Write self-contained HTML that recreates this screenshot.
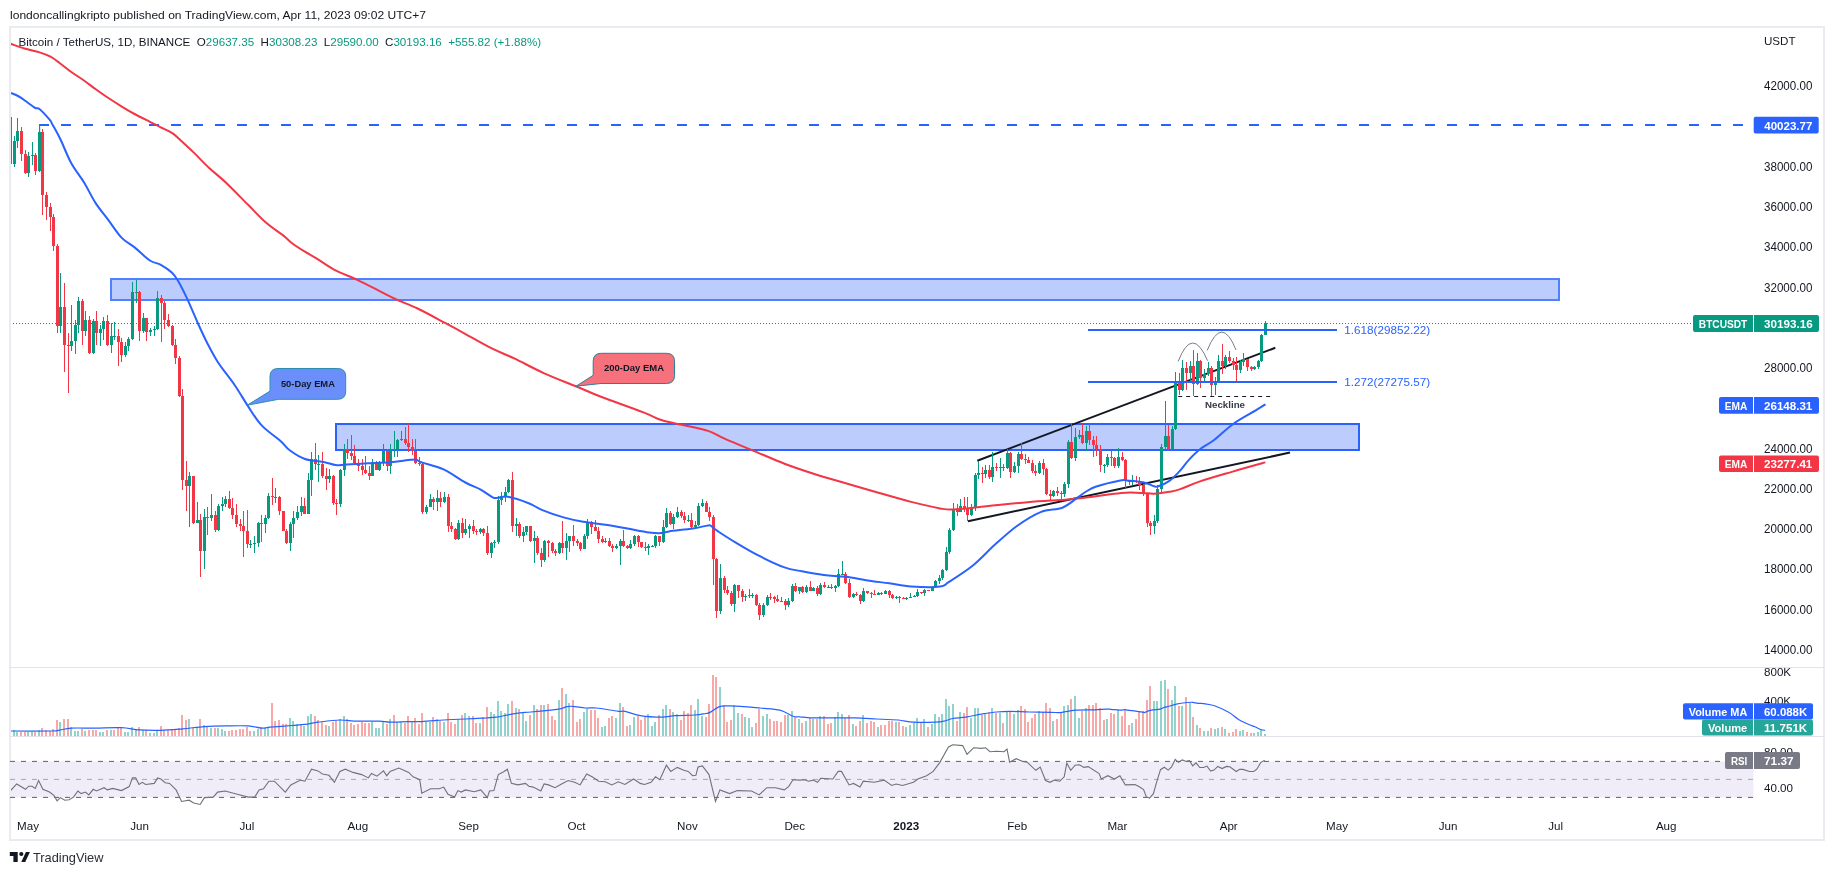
<!DOCTYPE html>
<html><head><meta charset="utf-8">
<style>
html,body{margin:0;padding:0;background:#ffffff;}
body{width:1834px;height:875px;overflow:hidden;position:relative;}
svg{position:absolute;left:0;top:0;will-change:transform;}
text{font-family:"Liberation Sans", sans-serif;}
</style></head>
<body>
<svg width="1834" height="875" viewBox="0 0 1834 875">
<defs><clipPath id="plot"><rect x="11" y="28" width="1742.5" height="639"/></clipPath>
<clipPath id="vpl"><rect x="11" y="668" width="1742.5" height="68"/></clipPath>
<clipPath id="rpl"><rect x="11" y="737" width="1742.5" height="71"/></clipPath></defs>
<rect x="0" y="0" width="1834" height="875" fill="#ffffff"/>
<text x="10" y="18.6" font-size="11.8" fill="#131722" textLength="416" lengthAdjust="spacingAndGlyphs">londoncallingkripto published on TradingView.com, Apr 11, 2023 09:02 UTC+7</text>
<rect x="10" y="27" width="1814" height="813" fill="#ffffff" stroke="#e9ebf0" stroke-width="2"/>
<line x1="10" y1="667.5" x2="1824" y2="667.5" stroke="#e0e3eb" stroke-width="1"/>
<line x1="10" y1="736.5" x2="1824" y2="736.5" stroke="#e0e3eb" stroke-width="1"/>
<!-- rsi band -->
<rect x="10" y="761.4" width="1743.5" height="36" fill="#f0edf8"/>
<line x1="10" y1="761.4" x2="1753.5" y2="761.4" stroke="#5d606b" stroke-width="1" stroke-dasharray="5,6"/>
<line x1="10" y1="779.4" x2="1753.5" y2="779.4" stroke="#a3a6af" stroke-width="1" stroke-dasharray="5,6"/>
<line x1="10" y1="797.4" x2="1753.5" y2="797.4" stroke="#5d606b" stroke-width="1" stroke-dasharray="5,6"/>
<g clip-path="url(#rpl)"><polyline points="10.6,790.6 16.7,784.0 25.5,789.3 28.7,786.2 32.0,786.2 35.3,788.4 38.6,780.5 42.9,789.3 49.5,792.1 53.9,795.4 57.1,800.8 60.4,797.6 64.8,800.2 69.1,799.7 73.5,797.1 77.9,791.0 81.1,793.6 85.5,792.1 88.8,794.9 93.2,789.3 96.4,791.0 104.1,787.7 107.3,789.9 112.8,788.4 121.5,790.6 129.2,786.6 132.5,777.9 135.7,777.9 139.0,784.5 142.3,782.3 145.6,784.5 154.3,783.4 157.6,777.9 160.8,779.0 165.2,782.7 169.6,783.4 176.1,789.9 181.6,801.5 189.2,800.2 193.6,803.0 200.1,804.5 204.5,797.6 213.2,797.1 217.6,792.1 225.2,791.0 237.3,794.3 248.2,797.1 254.7,797.1 259.1,789.9 263.5,788.8 268.9,781.2 274.4,781.2 285.3,792.1 290.8,784.9 300.6,780.1 304.9,781.2 311.5,769.2 318.0,770.9 322.4,774.0 329.0,775.3 334.4,782.3 339.9,771.4 345.3,769.2 353.0,772.4 361.7,774.6 368.3,777.9 371.5,773.5 377.0,776.2 383.5,770.9 386.8,775.7 390.1,771.4 398.8,768.1 408.7,772.4 413.1,776.8 419.7,779.7 421.8,793.2 430.6,788.8 439.3,788.8 443.7,787.1 448.0,794.3 454.6,797.1 457.9,790.6 461.1,792.1 465.5,789.9 474.2,791.7 480.8,789.9 487.3,797.6 489.5,791.0 493.9,790.6 498.3,774.6 503.7,771.8 507.4,769.2 511.4,783.4 517.9,784.9 525.5,783.4 528.8,786.2 533.2,787.1 540.8,791.0 544.1,784.0 548.5,784.9 555.0,787.7 561.6,784.0 568.1,780.5 574.7,782.3 580.1,784.9 586.7,774.0 592.1,776.8 598.7,781.2 605.2,781.8 611.8,784.9 618.3,781.8 624.9,784.5 633.6,779.0 640.2,783.4 644.5,784.5 651.1,782.3 655.5,776.8 659.8,779.7 666.4,765.2 670.7,771.4 677.3,767.4 683.8,770.3 688.2,771.4 692.6,775.7 695.9,775.3 698.0,767.0 702.4,765.9 709.0,774.6 715.5,801.5 719.9,789.9 729.7,793.6 737.3,790.6 751.5,791.0 759.2,794.9 766.8,787.7 775.5,787.7 784.3,789.9 788.6,786.6 793.0,779.7 800.0,780.1 804.4,779.7 808.7,781.2 813.1,780.1 817.5,782.3 820.7,778.3 832.8,779.0 838.2,771.4 841.5,771.4 849.1,784.9 853.5,783.4 860.0,787.1 863.3,781.2 874.2,782.3 884.1,780.1 891.7,785.5 896.1,784.0 902.6,785.5 913.5,782.3 917.9,779.0 926.6,775.7 933.2,771.4 939.7,762.6 948.5,746.9 952.8,744.7 962.7,745.6 967.0,754.3 973.6,747.8 981.2,748.4 985.6,747.8 990.0,751.7 996.5,751.3 1004.1,751.7 1007.0,749.1 1009.6,762.2 1016.2,758.7 1022.7,761.5 1027.1,762.2 1035.8,770.3 1040.2,767.0 1045.6,780.5 1050.0,782.3 1054.4,780.1 1059.8,781.2 1064.2,776.8 1066.8,763.1 1070.7,770.3 1075.1,765.2 1079.5,764.8 1083.8,767.4 1088.2,766.6 1099.1,773.5 1101.3,779.0 1107.9,775.7 1114.4,779.0 1119.9,775.7 1125.3,784.9 1134.9,784.6 1139.3,786.8 1143.6,789.5 1146.3,796.9 1149.6,798.0 1153.4,793.7 1156.7,781.9 1160.5,769.7 1164.3,767.2 1168.2,770.1 1171.4,767.2 1175.2,759.5 1178.5,762.3 1182.3,759.9 1186.2,761.4 1189.4,760.6 1192.7,765.8 1196.0,762.8 1199.8,767.5 1203.6,767.5 1206.9,766.1 1210.7,771.0 1214.0,770.1 1217.8,766.4 1222.1,768.6 1226.5,766.4 1229.8,766.8 1236.3,771.5 1239.6,769.4 1242.9,769.4 1249.4,771.5 1253.8,771.5 1257.0,769.0 1260.9,762.3 1264.7,760.3" fill="none" stroke="#6f717b" stroke-width="1.1"/></g>
<g clip-path="url(#vpl)"><path d="M9 730h2V736h-2ZM20 732h2V736h-2ZM24 732h2V736h-2ZM34 732h2V736h-2ZM41 728h2V736h-2ZM45 730h2V736h-2ZM49 731h2V736h-2ZM52 729h2V736h-2ZM56 720h2V736h-2ZM63 719h2V736h-2ZM67 719h2V736h-2ZM81 729h2V736h-2ZM88 730h2V736h-2ZM92 730h2V736h-2ZM95 730h2V736h-2ZM106 730h2V736h-2ZM113 730h2V736h-2ZM117 728h2V736h-2ZM120 728h2V736h-2ZM138 727h2V736h-2ZM145 730h2V736h-2ZM160 726h2V736h-2ZM163 730h2V736h-2ZM167 730h2V736h-2ZM171 729h2V736h-2ZM174 729h2V736h-2ZM178 728h2V736h-2ZM181 715h2V736h-2ZM185 720h2V736h-2ZM192 728h2V736h-2ZM199 719h2V736h-2ZM206 727h2V736h-2ZM214 728h2V736h-2ZM228 731h2V736h-2ZM231 730h2V736h-2ZM235 730h2V736h-2ZM239 729h2V736h-2ZM242 729h2V736h-2ZM246 727h2V736h-2ZM249 731h2V736h-2ZM260 727h2V736h-2ZM271 703h2V736h-2ZM274 721h2V736h-2ZM278 720h2V736h-2ZM282 724h2V736h-2ZM285 724h2V736h-2ZM300 724h2V736h-2ZM314 716h2V736h-2ZM317 720h2V736h-2ZM321 722h2V736h-2ZM325 725h2V736h-2ZM332 722h2V736h-2ZM335 721h2V736h-2ZM346 719h2V736h-2ZM350 723h2V736h-2ZM353 725h2V736h-2ZM357 724h2V736h-2ZM361 722h2V736h-2ZM364 723h2V736h-2ZM368 723h2V736h-2ZM386 724h2V736h-2ZM393 715h2V736h-2ZM404 723h2V736h-2ZM407 716h2V736h-2ZM414 718h2V736h-2ZM418 724h2V736h-2ZM421 713h2V736h-2ZM432 717h2V736h-2ZM439 721h2V736h-2ZM447 713h2V736h-2ZM450 722h2V736h-2ZM454 724h2V736h-2ZM461 715h2V736h-2ZM472 716h2V736h-2ZM475 723h2V736h-2ZM482 717h2V736h-2ZM486 707h2V736h-2ZM511 701h2V736h-2ZM518 709h2V736h-2ZM529 715h2V736h-2ZM536 709h2V736h-2ZM540 705h2V736h-2ZM547 704h2V736h-2ZM551 716h2V736h-2ZM554 720h2V736h-2ZM561 688h2V736h-2ZM572 700h2V736h-2ZM576 722h2V736h-2ZM579 719h2V736h-2ZM590 710h2V736h-2ZM594 710h2V736h-2ZM597 718h2V736h-2ZM608 718h2V736h-2ZM611 716h2V736h-2ZM622 707h2V736h-2ZM626 726h2V736h-2ZM637 716h2V736h-2ZM640 720h2V736h-2ZM644 717h2V736h-2ZM658 715h2V736h-2ZM669 709h2V736h-2ZM680 720h2V736h-2ZM683 711h2V736h-2ZM687 713h2V736h-2ZM690 705h2V736h-2ZM705 717h2V736h-2ZM708 704h2V736h-2ZM712 675h2V736h-2ZM715 677h2V736h-2ZM723 705h2V736h-2ZM726 722h2V736h-2ZM730 720h2V736h-2ZM741 714h2V736h-2ZM755 723h2V736h-2ZM758 709h2V736h-2ZM769 719h2V736h-2ZM773 721h2V736h-2ZM776 721h2V736h-2ZM780 722h2V736h-2ZM784 715h2V736h-2ZM794 717h2V736h-2ZM801 723h2V736h-2ZM809 718h2V736h-2ZM816 719h2V736h-2ZM823 716h2V736h-2ZM827 724h2V736h-2ZM830 723h2V736h-2ZM844 718h2V736h-2ZM848 715h2V736h-2ZM855 726h2V736h-2ZM859 721h2V736h-2ZM866 723h2V736h-2ZM870 721h2V736h-2ZM873 722h2V736h-2ZM880 725h2V736h-2ZM884 725h2V736h-2ZM888 721h2V736h-2ZM891 721h2V736h-2ZM898 722h2V736h-2ZM902 726h2V736h-2ZM920 723h2V736h-2ZM927 727h2V736h-2ZM956 721h2V736h-2ZM963 713h2V736h-2ZM966 707h2V736h-2ZM981 715h2V736h-2ZM988 712h2V736h-2ZM995 713h2V736h-2ZM1002 723h2V736h-2ZM1009 711h2V736h-2ZM1020 706h2V736h-2ZM1024 709h2V736h-2ZM1027 722h2V736h-2ZM1031 718h2V736h-2ZM1034 714h2V736h-2ZM1042 712h2V736h-2ZM1045 703h2V736h-2ZM1049 708h2V736h-2ZM1056 719h2V736h-2ZM1060 712h2V736h-2ZM1070 699h2V736h-2ZM1081 711h2V736h-2ZM1088 705h2V736h-2ZM1092 705h2V736h-2ZM1095 703h2V736h-2ZM1099 708h2V736h-2ZM1103 720h2V736h-2ZM1110 713h2V736h-2ZM1113 714h2V736h-2ZM1121 716h2V736h-2ZM1124 710h2V736h-2ZM1128 725h2V736h-2ZM1135 719h2V736h-2ZM1138 712h2V736h-2ZM1142 711h2V736h-2ZM1146 700h2V736h-2ZM1149 686h2V736h-2ZM1167 689h2V736h-2ZM1178 706h2V736h-2ZM1185 697h2V736h-2ZM1192 717h2V736h-2ZM1199 728h2V736h-2ZM1210 728h2V736h-2ZM1221 727h2V736h-2ZM1228 733h2V736h-2ZM1232 732h2V736h-2ZM1235 729h2V736h-2ZM1246 732h2V736h-2ZM1250 733h2V736h-2Z" fill="#f7a9a7"/><path d="M13 730h2V736h-2ZM16 732h2V736h-2ZM27 732h2V736h-2ZM31 732h2V736h-2ZM38 730h2V736h-2ZM59 722h2V736h-2ZM70 727h2V736h-2ZM74 731h2V736h-2ZM77 731h2V736h-2ZM84 731h2V736h-2ZM99 732h2V736h-2ZM102 732h2V736h-2ZM110 730h2V736h-2ZM124 732h2V736h-2ZM127 732h2V736h-2ZM131 727h2V736h-2ZM135 730h2V736h-2ZM142 730h2V736h-2ZM149 733h2V736h-2ZM153 733h2V736h-2ZM156 730h2V736h-2ZM188 719h2V736h-2ZM196 728h2V736h-2ZM203 725h2V736h-2ZM210 728h2V736h-2ZM217 728h2V736h-2ZM221 729h2V736h-2ZM224 731h2V736h-2ZM253 731h2V736h-2ZM257 729h2V736h-2ZM264 728h2V736h-2ZM267 727h2V736h-2ZM289 718h2V736h-2ZM292 721h2V736h-2ZM296 724h2V736h-2ZM303 726h2V736h-2ZM307 716h2V736h-2ZM310 714h2V736h-2ZM328 726h2V736h-2ZM339 719h2V736h-2ZM343 716h2V736h-2ZM371 722h2V736h-2ZM375 728h2V736h-2ZM378 728h2V736h-2ZM382 722h2V736h-2ZM389 719h2V736h-2ZM396 722h2V736h-2ZM400 722h2V736h-2ZM411 721h2V736h-2ZM425 722h2V736h-2ZM429 722h2V736h-2ZM436 719h2V736h-2ZM443 722h2V736h-2ZM457 719h2V736h-2ZM464 713h2V736h-2ZM468 716h2V736h-2ZM479 723h2V736h-2ZM490 712h2V736h-2ZM493 714h2V736h-2ZM497 701h2V736h-2ZM500 711h2V736h-2ZM504 713h2V736h-2ZM507 704h2V736h-2ZM515 708h2V736h-2ZM522 713h2V736h-2ZM525 721h2V736h-2ZM533 705h2V736h-2ZM543 705h2V736h-2ZM558 700h2V736h-2ZM565 694h2V736h-2ZM568 703h2V736h-2ZM583 712h2V736h-2ZM586 709h2V736h-2ZM601 727h2V736h-2ZM604 726h2V736h-2ZM615 718h2V736h-2ZM619 703h2V736h-2ZM629 725h2V736h-2ZM633 717h2V736h-2ZM647 714h2V736h-2ZM651 726h2V736h-2ZM654 722h2V736h-2ZM662 709h2V736h-2ZM665 705h2V736h-2ZM672 712h2V736h-2ZM676 714h2V736h-2ZM694 710h2V736h-2ZM697 699h2V736h-2ZM701 716h2V736h-2ZM719 687h2V736h-2ZM733 705h2V736h-2ZM737 713h2V736h-2ZM744 717h2V736h-2ZM748 718h2V736h-2ZM751 727h2V736h-2ZM762 716h2V736h-2ZM766 714h2V736h-2ZM787 715h2V736h-2ZM791 711h2V736h-2ZM798 719h2V736h-2ZM805 721h2V736h-2ZM812 719h2V736h-2ZM819 716h2V736h-2ZM834 717h2V736h-2ZM837 712h2V736h-2ZM841 714h2V736h-2ZM852 724h2V736h-2ZM862 715h2V736h-2ZM877 727h2V736h-2ZM895 722h2V736h-2ZM905 727h2V736h-2ZM909 725h2V736h-2ZM913 722h2V736h-2ZM916 718h2V736h-2ZM923 719h2V736h-2ZM931 724h2V736h-2ZM934 714h2V736h-2ZM938 717h2V736h-2ZM941 714h2V736h-2ZM945 699h2V736h-2ZM948 706h2V736h-2ZM952 704h2V736h-2ZM959 712h2V736h-2ZM970 718h2V736h-2ZM974 708h2V736h-2ZM977 708h2V736h-2ZM984 713h2V736h-2ZM991 708h2V736h-2ZM999 713h2V736h-2ZM1006 712h2V736h-2ZM1013 714h2V736h-2ZM1017 710h2V736h-2ZM1038 711h2V736h-2ZM1052 721h2V736h-2ZM1063 706h2V736h-2ZM1067 705h2V736h-2ZM1074 696h2V736h-2ZM1078 718h2V736h-2ZM1085 708h2V736h-2ZM1106 719h2V736h-2ZM1117 710h2V736h-2ZM1131 723h2V736h-2ZM1153 701h2V736h-2ZM1156 701h2V736h-2ZM1160 681h2V736h-2ZM1164 680h2V736h-2ZM1171 700h2V736h-2ZM1174 686h2V736h-2ZM1181 706h2V736h-2ZM1189 703h2V736h-2ZM1196 725h2V736h-2ZM1203 731h2V736h-2ZM1207 731h2V736h-2ZM1214 729h2V736h-2ZM1217 728h2V736h-2ZM1224 729h2V736h-2ZM1239 731h2V736h-2ZM1242 730h2V736h-2ZM1253 733h2V736h-2ZM1257 732h2V736h-2ZM1260 730h2V736h-2ZM1264 734h2V736h-2Z" fill="#92d2cc"/>
<path d="M10.6,731.0C17.5,731.0 43.4,731.1 51.7,731.0C60.0,730.8 57.1,730.3 60.4,729.9C63.7,729.4 65.5,728.4 71.3,728.1C77.1,727.8 87.0,728.2 95.3,728.1C103.7,728.0 114.3,727.4 121.5,727.7C128.8,728.0 132.5,729.4 139.0,729.9C145.6,730.3 153.6,730.5 160.8,730.3C168.1,730.1 175.4,729.4 182.7,728.8C190.0,728.2 197.2,727.1 204.5,726.6C211.8,726.1 219.1,726.0 226.3,725.9C233.6,725.8 242.4,725.6 248.2,725.9C254.0,726.3 257.6,727.9 261.3,728.1C264.9,728.3 264.9,727.7 270.0,727.2C275.1,726.8 286.0,726.0 291.8,725.5C297.7,725.0 300.6,725.0 304.9,724.4C309.3,723.9 312.2,723.0 318.0,722.2C323.9,721.5 333.3,720.2 339.9,720.0C346.4,719.9 350.8,721.0 357.3,721.1C363.9,721.3 373.7,721.0 379.2,721.1C384.6,721.3 385.3,722.2 390.1,722.2C394.9,722.3 402.7,721.7 408.0,721.6C413.3,721.5 415.9,721.8 421.8,721.6C427.8,721.3 436.4,720.5 443.7,720.0C450.9,719.6 458.2,719.3 465.5,719.0C472.8,718.6 481.9,718.2 487.3,717.9C492.8,717.5 494.6,717.3 498.3,716.8C501.9,716.2 505.5,715.2 509.2,714.6C512.8,713.9 516.4,713.3 520.1,712.8C523.7,712.4 525.5,712.5 531.0,712.0C536.5,711.5 547.7,710.4 552.8,709.8C557.9,709.2 559.4,708.9 561.6,708.5C563.8,708.0 564.1,707.3 565.9,706.9C567.8,706.6 569.2,706.1 572.5,706.3C575.8,706.5 581.6,707.7 585.6,708.0C589.6,708.3 591.0,707.5 596.5,708.0C602.0,708.6 613.6,710.8 618.3,711.3C623.1,711.9 621.3,710.6 624.9,711.3C628.5,712.0 634.0,714.7 640.2,715.7C646.4,716.7 656.2,717.2 662.0,717.2C667.8,717.2 669.7,716.0 675.1,715.7C680.6,715.3 689.7,715.4 694.8,715.0C699.9,714.7 703.1,713.9 705.7,713.5C708.2,713.1 707.9,713.5 710.0,712.4C712.2,711.3 715.9,708.0 718.8,706.9C721.7,705.9 723.9,706.0 727.5,705.9C731.1,705.7 735.2,705.9 740.6,706.3C746.1,706.7 753.7,707.4 760.3,708.0C766.8,708.7 774.5,708.8 779.9,710.2C785.4,711.6 789.7,715.2 793.0,716.3C796.4,717.4 797.0,716.5 800.0,716.8C803.0,717.0 805.5,717.7 810.9,717.9C816.4,718.0 825.5,717.9 832.8,717.9C840.0,717.9 847.3,717.7 854.6,717.9C861.9,718.0 869.1,718.6 876.4,719.0C883.7,719.3 892.1,719.5 898.3,720.0C904.4,720.6 907.4,721.9 913.5,722.2C919.7,722.6 930.3,722.4 935.4,722.2C940.5,722.0 941.2,721.8 944.1,721.1C947.0,720.5 949.2,719.2 952.8,718.5C956.5,717.9 961.2,717.9 965.9,717.2C970.7,716.5 976.1,715.0 981.2,714.1C986.3,713.3 991.8,712.4 996.5,712.0C1001.2,711.5 1004.1,711.3 1009.6,711.3C1015.1,711.3 1022.3,711.8 1029.3,712.0C1036.2,712.1 1045.6,712.3 1051.1,712.4C1056.6,712.5 1058.0,712.8 1062.0,712.4C1066.0,712.0 1069.7,710.7 1075.1,710.2C1080.6,709.8 1089.7,710.0 1094.8,709.8C1099.9,709.6 1103.0,709.2 1105.7,709.1C1108.4,709.0 1108.6,709.1 1110.9,709.3C1113.2,709.5 1117.3,710.1 1119.6,710.2C1122.0,710.2 1123.8,709.6 1125.1,709.6C1126.4,709.6 1126.2,710.0 1127.5,710.2C1128.8,710.4 1130.0,710.4 1132.7,710.7C1135.4,711.1 1141.6,712.1 1143.6,712.3C1145.7,712.6 1144.1,712.7 1145.0,712.4C1145.9,712.1 1147.6,711.1 1149.1,710.7C1150.5,710.3 1151.9,710.1 1153.7,709.8C1155.5,709.5 1158.0,709.6 1160.0,709.1C1161.9,708.6 1164.3,707.2 1165.4,706.9C1166.6,706.5 1165.0,707.4 1166.8,706.9C1168.6,706.5 1172.9,704.9 1176.3,704.2C1179.7,703.4 1184.5,702.8 1187.2,702.5C1190.0,702.2 1190.9,702.2 1192.7,702.3C1194.5,702.5 1196.3,703.2 1198.1,703.4C1200.0,703.6 1200.9,703.2 1203.6,703.6C1206.3,704.0 1210.3,704.3 1214.5,705.8C1218.7,707.3 1224.7,710.1 1228.7,712.3C1232.7,714.6 1235.2,717.4 1238.5,719.4C1241.8,721.4 1245.6,723.1 1248.3,724.3C1251.0,725.6 1252.7,725.8 1254.9,726.7C1257.0,727.6 1259.7,729.2 1261.4,729.8C1263.1,730.4 1264.6,730.2 1265.2,730.3" fill="none" stroke="#2962ff" stroke-width="1.2"/></g>
<g clip-path="url(#plot)">
<!-- rectangles -->
<rect x="111" y="279" width="1448" height="21" fill="#bbccfd" stroke="#4f80fe" stroke-width="2"/>
<rect x="336" y="424" width="1023" height="26" fill="#bbccfd" stroke="#2962ff" stroke-width="2"/>
<!-- price line -->
<line x1="10" y1="323.5" x2="1693" y2="323.5" stroke="#089981" stroke-width="1" stroke-dasharray="1,2"/>
<!-- dashed level -->
<line x1="39" y1="125" x2="1752" y2="125" stroke="#2962ff" stroke-width="2" stroke-dasharray="10,12"/>
<line x1="39.7" y1="124" x2="39.7" y2="133" stroke="#089981" stroke-width="1"/>
<!-- trendlines -->
<line x1="977.3" y1="460.7" x2="1275.3" y2="347.8" stroke="#131722" stroke-width="2"/>
<line x1="968" y1="521.2" x2="1290" y2="452.6" stroke="#131722" stroke-width="2"/>
<path d="M14.5 136V167M17.5 118V148M28.5 152V177M32.5 142V165M39.5 125V172M60.5 273V333M71.5 305V351M75.5 320V354M78.5 297V333M85.5 311V336M93.5 319V354M100.5 325V346M103.5 317V340M111.5 323V353M114.5 322V340M125.5 342V357M128.5 337V351M132.5 282V340M136.5 280V303M143.5 313V333M150.5 328V336M154.5 326V336M157.5 291V330M189.5 472V527M197.5 502V523M204.5 509V569M211.5 494V521M218.5 504V531M222.5 497V511M225.5 496V507M250.5 540V548M254.5 536V553M258.5 522V547M265.5 515V533M268.5 493V519M275.5 488V503M290.5 522V551M293.5 511V538M297.5 506V520M301.5 497V516M308.5 473V514M311.5 452V496M318.5 455V482M329.5 469V483M340.5 469V507M344.5 444V476M372.5 459V476M379.5 461V471M383.5 444V466M390.5 444V474M394.5 431V457M397.5 439V457M401.5 431V441M426.5 505V514M430.5 494V507M437.5 490V511M444.5 492V503M458.5 520V540M465.5 519V535M469.5 524V538M480.5 528V534M491.5 542V558M494.5 540V548M498.5 496V544M501.5 492V505M505.5 487V502M508.5 479V493M516.5 518V536M523.5 527V542M526.5 526V535M534.5 531V563M544.5 540V562M559.5 542V554M566.5 533V560M569.5 536V552M584.5 534V549M587.5 519V539M605.5 538V543M616.5 544V549M620.5 539V565M630.5 540V549M634.5 535V546M648.5 544V555M652.5 545V547M655.5 535V548M663.5 520V543M666.5 508V528M673.5 514V529M677.5 507V518M688.5 515V522M695.5 521V528M698.5 503V526M702.5 499V507M720.5 564V614M734.5 584V612M745.5 594V601M749.5 589V598M752.5 593V598M763.5 603V617M767.5 595V606M781.5 597V602M788.5 598V607M792.5 584V602M799.5 587V594M806.5 585V593M813.5 587V591M820.5 583V595M828.5 585V588M835.5 585V592M838.5 569V587M842.5 561V575M853.5 593V598M863.5 588V602M878.5 592V595M885.5 590V594M896.5 596V599M906.5 597V600M910.5 593V598M914.5 595V597M917.5 589V597M924.5 589V596M932.5 586V591M935.5 580V587M939.5 575V584M942.5 569V580M946.5 547V571M949.5 528V554M953.5 503V531M960.5 499V512M971.5 504V516M975.5 473V511M978.5 461V479M985.5 465V478M992.5 452V482M1000.5 458V478M1007.5 449V469M1014.5 462V473M1018.5 452V473M1039.5 461V474M1053.5 490V497M1064.5 482V497M1068.5 440V488M1075.5 428V461M1079.5 430V439M1086.5 426V451M1104.5 464V473M1107.5 454V467M1118.5 448V468M1132.5 475V485M1154.5 515V534M1157.5 485V523M1161.5 444V492M1165.5 401V450M1172.5 426V450M1175.5 372V430M1182.5 360V391M1190.5 361V382M1197.5 353V385M1204.5 369V383M1208.5 362V376M1215.5 377V395M1218.5 355V383M1225.5 355V369M1240.5 360V373M1243.5 353V366M1254.5 366V370M1258.5 360V369M1261.5 334V362M1265.5 321V335" stroke="#089981" stroke-width="1" fill="none"/><path d="M13 141h3V164h-3ZM16 131h3V141h-3ZM27 156h3V173h-3ZM31 155h3V156h-3ZM38 132h3V171h-3ZM59 307h3V326h-3ZM70 341h3V346h-3ZM74 325h3V341h-3ZM77 301h3V325h-3ZM84 320h3V331h-3ZM92 321h3V353h-3ZM99 329h3V333h-3ZM102 321h3V329h-3ZM110 336h3V345h-3ZM113 336h3V337h-3ZM124 346h3V355h-3ZM127 339h3V346h-3ZM131 292h3V339h-3ZM135 292h3V293h-3ZM142 318h3V331h-3ZM149 330h3V332h-3ZM153 329h3V330h-3ZM156 298h3V329h-3ZM188 476h3V486h-3ZM196 520h3V523h-3ZM203 517h3V551h-3ZM210 515h3V518h-3ZM217 506h3V530h-3ZM221 504h3V506h-3ZM224 499h3V504h-3ZM249 544h3V545h-3ZM253 543h3V544h-3ZM257 523h3V543h-3ZM264 518h3V524h-3ZM267 496h3V518h-3ZM274 497h3V498h-3ZM289 524h3V543h-3ZM292 518h3V524h-3ZM296 512h3V518h-3ZM300 506h3V512h-3ZM307 480h3V514h-3ZM310 459h3V480h-3ZM317 464h3V465h-3ZM328 476h3V479h-3ZM339 470h3V504h-3ZM343 449h3V470h-3ZM371 462h3V476h-3ZM378 463h3V470h-3ZM382 451h3V463h-3ZM389 449h3V466h-3ZM393 449h3V450h-3ZM396 440h3V449h-3ZM400 439h3V440h-3ZM425 507h3V512h-3ZM429 499h3V507h-3ZM436 498h3V502h-3ZM443 497h3V502h-3ZM457 523h3V539h-3ZM464 529h3V533h-3ZM468 526h3V529h-3ZM479 529h3V532h-3ZM490 543h3V553h-3ZM493 542h3V543h-3ZM497 500h3V542h-3ZM500 496h3V500h-3ZM504 492h3V496h-3ZM507 480h3V492h-3ZM515 524h3V526h-3ZM522 532h3V536h-3ZM525 526h3V532h-3ZM533 538h3V541h-3ZM543 541h3V560h-3ZM558 543h3V553h-3ZM565 541h3V548h-3ZM568 536h3V541h-3ZM583 536h3V549h-3ZM586 522h3V536h-3ZM604 541h3V542h-3ZM615 546h3V548h-3ZM619 541h3V546h-3ZM629 544h3V548h-3ZM633 536h3V544h-3ZM647 546h3V548h-3ZM651 546h3V547h-3ZM654 536h3V546h-3ZM662 527h3V542h-3ZM665 513h3V527h-3ZM672 517h3V524h-3ZM676 512h3V517h-3ZM687 520h3V521h-3ZM694 525h3V527h-3ZM697 506h3V525h-3ZM701 503h3V506h-3ZM719 578h3V611h-3ZM733 585h3V604h-3ZM744 596h3V597h-3ZM748 595h3V596h-3ZM751 595h3V596h-3ZM762 605h3V615h-3ZM766 597h3V605h-3ZM780 601h3V602h-3ZM787 601h3V605h-3ZM791 586h3V601h-3ZM798 587h3V591h-3ZM805 587h3V592h-3ZM812 588h3V591h-3ZM819 585h3V594h-3ZM827 587h3V588h-3ZM834 586h3V588h-3ZM837 574h3V586h-3ZM841 574h3V575h-3ZM852 594h3V597h-3ZM862 591h3V601h-3ZM877 593h3V595h-3ZM884 591h3V594h-3ZM895 597h3V598h-3ZM905 598h3V599h-3ZM909 597h3V598h-3ZM913 596h3V597h-3ZM916 592h3V596h-3ZM923 590h3V593h-3ZM931 587h3V591h-3ZM934 581h3V587h-3ZM938 578h3V581h-3ZM941 570h3V578h-3ZM945 552h3V570h-3ZM948 530h3V552h-3ZM952 510h3V530h-3ZM959 506h3V512h-3ZM970 507h3V515h-3ZM974 475h3V507h-3ZM977 473h3V475h-3ZM984 470h3V474h-3ZM991 467h3V477h-3ZM999 467h3V468h-3ZM1006 453h3V468h-3ZM1013 466h3V472h-3ZM1017 454h3V466h-3ZM1038 463h3V473h-3ZM1052 491h3V496h-3ZM1063 484h3V494h-3ZM1067 442h3V484h-3ZM1074 437h3V458h-3ZM1078 435h3V437h-3ZM1085 431h3V443h-3ZM1103 465h3V466h-3ZM1106 457h3V465h-3ZM1117 457h3V466h-3ZM1131 481h3V482h-3ZM1153 521h3V526h-3ZM1156 489h3V521h-3ZM1160 447h3V489h-3ZM1164 436h3V447h-3ZM1171 429h3V449h-3ZM1174 381h3V429h-3ZM1181 368h3V390h-3ZM1189 366h3V373h-3ZM1196 361h3V384h-3ZM1203 374h3V378h-3ZM1207 368h3V374h-3ZM1214 381h3V385h-3ZM1217 361h3V381h-3ZM1224 357h3V366h-3ZM1239 362h3V370h-3ZM1242 359h3V362h-3ZM1253 367h3V369h-3ZM1257 361h3V367h-3ZM1260 335h3V361h-3ZM1264 323h3V335h-3Z" fill="#089981"/><path d="M10.5 109V171M21.5 127V161M25.5 150V174M35.5 153V175M42.5 129V215M46.5 192V220M50.5 203V231M53.5 214V251M57.5 244V333M64.5 283V372M68.5 333V393M82.5 299V345M89.5 316V354M96.5 311V345M107.5 315V346M118.5 329V366M121.5 338V362M139.5 291V341M146.5 318V341M161.5 295V342M164.5 301V329M168.5 314V327M172.5 325V346M175.5 339V364M179.5 356V397M182.5 389V490M186.5 461V511M193.5 476V524M200.5 514V577M207.5 507V535M215.5 511V532M229.5 491V509M232.5 498V519M236.5 504V527M240.5 519V531M243.5 511V557M247.5 510V548M261.5 515V542M272.5 478V505M279.5 496V515M283.5 511V531M286.5 529V544M304.5 498V514M315.5 443V470M322.5 452V478M326.5 468V490M333.5 475V505M336.5 499V515M347.5 439V459M351.5 435V460M354.5 445V464M358.5 459V471M362.5 459V475M365.5 456V474M369.5 466V480M376.5 461V470M387.5 449V471M405.5 427V445M408.5 424V452M412.5 439V455M415.5 439V464M419.5 457V466M422.5 463V514M433.5 497V510M440.5 492V507M448.5 494V532M451.5 522V532M455.5 528V540M462.5 518V538M473.5 520V534M476.5 529V535M483.5 528V536M487.5 526V555M512.5 472V532M519.5 522V538M530.5 526V542M537.5 536V555M541.5 548V567M548.5 540V557M552.5 542V553M555.5 549V556M562.5 521V553M573.5 525V546M577.5 539V546M580.5 542V551M591.5 521V534M595.5 520V531M598.5 527V543M602.5 536V543M609.5 538V547M612.5 544V552M623.5 530V547M627.5 545V549M638.5 535V547M641.5 542V548M645.5 542V551M659.5 536V546M670.5 511V525M681.5 510V518M684.5 512V523M691.5 513V528M706.5 501V512M709.5 507V521M713.5 515V585M716.5 558V618M724.5 576V593M727.5 586V595M731.5 591V606M738.5 585V598M742.5 589V602M756.5 594V606M759.5 603V620M770.5 593V600M774.5 596V603M777.5 595V602M785.5 599V610M795.5 583V592M802.5 586V593M810.5 581V591M817.5 586V596M824.5 582V588M831.5 584V589M845.5 572V584M849.5 579V598M856.5 592V596M860.5 594V604M867.5 591V594M871.5 592V598M874.5 590V595M881.5 592V595M889.5 590V598M892.5 594V599M899.5 596V603M903.5 597V599M921.5 592V594M928.5 590V591M957.5 504V516M964.5 497V512M967.5 497V521M982.5 467V483M989.5 465V479M996.5 463V471M1003.5 464V471M1010.5 452V478M1021.5 443V460M1025.5 454V464M1028.5 457V463M1032.5 460V473M1035.5 465V476M1043.5 459V475M1046.5 468V495M1050.5 490V501M1057.5 487V496M1061.5 491V501M1071.5 423V459M1082.5 424V444M1089.5 423V445M1093.5 436V457M1096.5 436V456M1100.5 445V472M1111.5 451V466M1114.5 457V468M1122.5 452V461M1125.5 459V488M1129.5 481V485M1136.5 476V483M1139.5 477V490M1143.5 484V496M1147.5 493V527M1150.5 521V535M1168.5 425V450M1179.5 373V395M1186.5 362V390M1193.5 350V396M1200.5 360V388M1211.5 366V397M1222.5 344V374M1229.5 351V363M1233.5 358V370M1236.5 357V383M1247.5 359V371M1251.5 366V371" stroke="#f23645" stroke-width="1" fill="none"/><path d="M9 117h3V164h-3ZM20 131h3V154h-3ZM24 154h3V173h-3ZM34 155h3V171h-3ZM41 132h3V195h-3ZM45 195h3V207h-3ZM49 207h3V217h-3ZM52 217h3V246h-3ZM56 246h3V326h-3ZM63 307h3V345h-3ZM67 345h3V346h-3ZM81 301h3V331h-3ZM88 320h3V353h-3ZM95 321h3V333h-3ZM106 321h3V345h-3ZM117 336h3V342h-3ZM120 342h3V355h-3ZM138 292h3V331h-3ZM145 318h3V332h-3ZM160 298h3V303h-3ZM163 303h3V320h-3ZM167 320h3V326h-3ZM171 326h3V345h-3ZM174 345h3V358h-3ZM178 358h3V396h-3ZM181 396h3V480h-3ZM185 480h3V486h-3ZM192 476h3V523h-3ZM199 520h3V551h-3ZM206 517h3V518h-3ZM214 515h3V530h-3ZM228 499h3V508h-3ZM231 508h3V515h-3ZM235 515h3V524h-3ZM239 524h3V526h-3ZM242 526h3V531h-3ZM246 531h3V544h-3ZM260 523h3V524h-3ZM271 496h3V497h-3ZM278 497h3V511h-3ZM282 511h3V531h-3ZM285 531h3V543h-3ZM303 506h3V514h-3ZM314 459h3V464h-3ZM321 464h3V476h-3ZM325 476h3V479h-3ZM332 476h3V503h-3ZM335 503h3V504h-3ZM346 449h3V453h-3ZM350 453h3V456h-3ZM353 456h3V463h-3ZM357 463h3V466h-3ZM361 466h3V470h-3ZM364 470h3V473h-3ZM368 473h3V476h-3ZM375 462h3V470h-3ZM386 451h3V466h-3ZM404 439h3V443h-3ZM407 443h3V447h-3ZM411 447h3V451h-3ZM414 451h3V463h-3ZM418 463h3V464h-3ZM421 464h3V512h-3ZM432 499h3V502h-3ZM439 498h3V502h-3ZM447 497h3V526h-3ZM450 526h3V529h-3ZM454 529h3V539h-3ZM461 523h3V533h-3ZM472 526h3V531h-3ZM475 531h3V532h-3ZM482 529h3V533h-3ZM486 533h3V553h-3ZM511 480h3V526h-3ZM518 524h3V536h-3ZM529 526h3V541h-3ZM536 538h3V553h-3ZM540 553h3V560h-3ZM547 541h3V543h-3ZM551 543h3V551h-3ZM554 551h3V553h-3ZM561 543h3V548h-3ZM572 536h3V541h-3ZM576 541h3V543h-3ZM579 543h3V549h-3ZM590 522h3V527h-3ZM594 527h3V531h-3ZM597 531h3V539h-3ZM601 539h3V542h-3ZM608 541h3V546h-3ZM611 546h3V548h-3ZM622 541h3V546h-3ZM626 546h3V548h-3ZM637 536h3V542h-3ZM640 542h3V547h-3ZM644 547h3V548h-3ZM658 536h3V542h-3ZM669 513h3V524h-3ZM680 512h3V516h-3ZM683 516h3V520h-3ZM690 520h3V527h-3ZM705 503h3V512h-3ZM708 512h3V517h-3ZM712 517h3V559h-3ZM715 559h3V611h-3ZM723 578h3V590h-3ZM726 590h3V593h-3ZM730 593h3V604h-3ZM737 585h3V591h-3ZM741 591h3V597h-3ZM755 595h3V605h-3ZM758 605h3V615h-3ZM769 597h3V598h-3ZM773 597h3V599h-3ZM776 599h3V601h-3ZM784 601h3V605h-3ZM794 586h3V591h-3ZM801 587h3V592h-3ZM809 587h3V591h-3ZM816 588h3V594h-3ZM823 585h3V587h-3ZM830 587h3V588h-3ZM844 574h3V583h-3ZM848 583h3V597h-3ZM855 594h3V595h-3ZM859 595h3V601h-3ZM866 591h3V593h-3ZM870 593h3V594h-3ZM873 594h3V595h-3ZM880 593h3V594h-3ZM888 591h3V595h-3ZM891 595h3V598h-3ZM898 597h3V598h-3ZM902 598h3V599h-3ZM920 592h3V593h-3ZM927 590h3V591h-3ZM956 510h3V512h-3ZM963 506h3V508h-3ZM966 508h3V515h-3ZM981 473h3V474h-3ZM988 470h3V477h-3ZM995 467h3V468h-3ZM1002 467h3V468h-3ZM1009 453h3V472h-3ZM1020 454h3V459h-3ZM1024 459h3V460h-3ZM1027 460h3V463h-3ZM1031 463h3V471h-3ZM1034 471h3V473h-3ZM1042 463h3V469h-3ZM1045 469h3V494h-3ZM1049 494h3V496h-3ZM1056 491h3V493h-3ZM1060 493h3V494h-3ZM1070 442h3V458h-3ZM1081 435h3V443h-3ZM1088 431h3V440h-3ZM1092 440h3V445h-3ZM1095 445h3V449h-3ZM1099 449h3V465h-3ZM1110 457h3V458h-3ZM1113 458h3V466h-3ZM1121 457h3V460h-3ZM1124 460h3V481h-3ZM1128 481h3V482h-3ZM1135 481h3V482h-3ZM1138 481h3V485h-3ZM1142 485h3V494h-3ZM1146 494h3V523h-3ZM1149 523h3V526h-3ZM1167 436h3V449h-3ZM1178 381h3V390h-3ZM1185 368h3V373h-3ZM1192 366h3V384h-3ZM1199 361h3V378h-3ZM1210 368h3V385h-3ZM1221 361h3V366h-3ZM1228 357h3V361h-3ZM1232 361h3V365h-3ZM1235 365h3V370h-3ZM1246 359h3V367h-3ZM1250 367h3V369h-3Z" fill="#f23645"/>
<path d="M10.2,43.6C12.6,44.4 19.5,47.0 24.4,48.5C29.3,50.0 35.2,51.0 39.6,52.4C44.0,53.8 47.2,55.0 50.5,56.7C53.8,58.4 55.8,60.2 59.3,62.7C62.8,65.2 67.1,69.0 71.3,72.0C75.5,75.0 80.3,77.9 84.3,80.7C88.3,83.5 91.6,86.3 95.2,88.9C98.8,91.5 101.7,93.6 106.1,96.5C110.5,99.4 116.7,103.4 121.4,106.3C126.1,109.2 129.8,111.4 134.5,114.0C139.2,116.6 145.5,119.6 149.9,121.8C154.3,124.0 157.2,125.5 160.8,127.3C164.5,129.1 168.9,131.0 171.8,132.8C174.7,134.6 174.7,134.9 178.3,138.2C181.9,141.5 188.5,147.5 193.6,152.4C198.7,157.3 203.4,162.6 208.9,167.7C214.4,172.8 219.8,176.8 226.3,183.0C232.8,189.2 241.5,198.2 248.1,204.8C254.7,211.4 259.8,217.2 265.6,222.3C271.4,227.4 278.7,232.0 283.1,235.4C287.5,238.8 288.2,240.3 291.8,243.0C295.4,245.7 300.5,249.0 304.9,251.7C309.3,254.4 312.9,256.3 318.0,259.4C323.1,262.5 328.9,266.9 335.5,270.3C342.1,273.7 349.9,276.3 357.3,279.8C364.7,283.3 373.5,288.0 380.0,291.3C386.5,294.6 390.1,296.6 396.4,299.5C402.7,302.4 409.4,304.6 417.6,308.5C425.8,312.4 437.6,319.0 445.5,323.2C453.4,327.4 457.5,329.6 465.1,333.8C472.7,338.0 483.1,344.1 491.3,348.2C499.5,352.3 505.5,354.2 514.2,358.4C522.9,362.5 533.3,368.4 543.7,373.1C554.1,377.8 566.9,382.6 576.4,386.5C585.9,390.4 589.8,392.5 601.0,396.8C612.2,401.1 633.5,408.5 643.5,412.4C653.5,416.3 654.8,417.9 661.2,420.0C667.6,422.1 674.1,423.0 681.9,424.8C689.7,426.6 700.8,428.5 708.1,430.9C715.4,433.3 717.2,435.5 725.6,439.2C734.0,442.9 748.5,448.7 758.3,452.8C768.1,456.9 775.4,460.2 784.5,463.7C793.6,467.1 802.7,470.2 812.9,473.5C823.1,476.8 834.8,480.1 845.7,483.3C856.6,486.5 867.5,489.6 878.4,492.7C889.3,495.8 900.9,499.3 911.2,501.9C921.5,504.5 933.0,507.1 940.0,508.4C947.0,509.6 946.0,509.7 953.3,509.4C960.6,509.1 971.4,507.8 983.8,506.6C996.2,505.4 1014.8,503.3 1027.5,502.2C1040.2,501.1 1051.5,500.6 1060.3,500.0C1069.0,499.4 1069.8,499.5 1080.0,498.3C1090.2,497.1 1111.2,493.8 1121.4,492.9C1131.6,492.0 1135.6,492.8 1141.1,492.9C1146.6,493.0 1149.5,493.9 1154.2,493.7C1158.9,493.5 1165.1,492.6 1169.4,491.8C1173.8,491.0 1175.2,490.8 1180.3,489.1C1185.4,487.4 1191.3,484.3 1200.0,481.4C1208.7,478.5 1221.8,474.8 1232.7,471.6C1243.6,468.4 1260.0,463.9 1265.4,462.4" fill="none" stroke="#f23645" stroke-width="2" stroke-linejoin="round"/><path d="M10.2,92.7C11.6,93.3 16.0,94.9 18.9,96.5C21.8,98.1 24.9,100.6 27.6,102.5C30.3,104.4 33.3,106.9 35.3,108.0C37.3,109.1 37.4,107.3 39.7,109.2C42.1,111.1 47.2,116.8 49.4,119.4C51.6,122.0 50.9,121.6 52.7,124.9C54.5,128.2 57.3,132.9 60.4,139.3C63.5,145.7 67.3,156.0 71.3,163.3C75.3,170.6 80.4,176.4 84.4,183.0C88.4,189.6 91.3,196.4 95.3,202.6C99.3,208.8 104.0,214.3 108.4,220.1C112.8,225.9 117.1,233.0 121.5,237.6C125.9,242.2 129.9,243.6 134.6,247.4C139.3,251.2 145.5,257.6 149.9,260.5C154.3,263.4 157.2,262.8 160.8,264.8C164.5,266.8 168.9,269.8 171.8,272.5C174.7,275.2 175.8,276.9 178.3,281.2C180.8,285.5 183.7,291.3 187.0,298.4C190.3,305.4 194.7,316.2 198.0,323.5C201.3,330.8 203.4,335.6 206.7,342.0C210.0,348.4 212.9,354.4 217.6,361.7C222.3,369.0 230.0,378.2 235.1,385.7C240.2,393.2 243.9,400.0 248.3,406.6C252.7,413.2 255.9,419.3 261.4,425.1C266.8,430.9 276.3,437.3 281.0,441.5C285.7,445.7 285.7,447.3 289.7,450.2C293.7,453.1 299.2,457.0 305.0,459.0C310.8,461.0 319.6,461.2 324.7,462.2C329.8,463.2 332.0,464.7 335.6,465.1C339.2,465.5 341.1,464.7 346.5,464.4C351.9,464.1 361.0,463.7 368.3,463.3C375.6,462.9 383.1,462.8 390.2,462.2C397.3,461.6 406.5,460.2 410.9,459.8C415.3,459.4 414.6,459.4 416.4,459.8C418.2,460.2 417.3,460.8 421.8,462.4C426.3,464.0 436.3,466.0 443.6,469.4C450.9,472.8 459.2,479.1 465.4,482.5C471.6,485.9 476.1,487.1 480.7,489.6C485.2,492.1 489.8,495.9 492.7,497.3C495.6,498.7 495.6,497.9 498.1,497.8C500.7,497.7 502.9,495.8 508.0,496.7C513.1,497.6 523.1,501.0 528.7,503.2C534.3,505.4 536.0,507.4 541.8,509.8C547.6,512.2 556.7,515.4 563.6,517.4C570.5,519.4 576.2,520.6 583.2,521.8C590.2,523.0 598.1,523.7 605.5,524.8C612.9,525.9 620.0,527.2 627.3,528.5C634.6,529.8 643.5,531.6 649.2,532.4C654.9,533.2 658.1,533.3 661.4,533.1C664.7,532.9 663.8,532.2 669.0,531.4C674.2,530.6 686.2,529.5 692.8,528.5C699.3,527.5 705.2,525.7 708.3,525.4C711.4,525.1 710.0,525.5 711.6,526.5C713.2,527.5 714.3,528.9 718.1,531.4C721.9,533.9 727.8,537.8 734.5,541.8C741.2,545.8 750.0,551.1 758.3,555.4C766.6,559.7 777.2,564.8 784.5,567.4C791.8,570.0 795.5,570.0 802.0,571.3C808.5,572.6 816.5,574.1 823.8,575.0C831.1,575.9 838.4,575.9 845.7,576.8C853.0,577.7 860.2,579.4 867.5,580.5C874.8,581.6 882.0,582.3 889.3,583.3C896.6,584.3 902.8,585.8 911.2,586.4C919.7,587.0 933.7,587.4 940.0,586.6C946.3,585.9 943.4,585.4 948.9,581.9C954.4,578.4 965.2,571.7 972.9,565.5C980.5,559.3 987.5,551.3 994.8,544.8C1002.1,538.2 1009.0,531.7 1016.6,526.2C1024.2,520.8 1033.0,515.2 1040.6,512.1C1048.2,509.0 1056.2,510.1 1062.4,507.7C1068.6,505.2 1074.0,500.0 1077.8,497.4C1081.6,494.8 1082.3,493.8 1085.4,492.0C1088.5,490.2 1090.5,488.4 1096.3,486.5C1102.1,484.6 1115.2,481.5 1120.3,480.5C1125.4,479.5 1123.0,480.2 1126.8,480.5C1130.6,480.8 1138.6,481.2 1143.2,482.2C1147.8,483.2 1151.7,485.6 1154.2,486.3C1156.8,487.0 1156.0,487.2 1158.5,486.3C1161.0,485.4 1166.0,483.3 1169.4,480.9C1172.9,478.4 1175.9,475.2 1179.2,471.6C1182.5,468.1 1185.6,463.3 1189.1,459.6C1192.6,455.9 1195.8,452.6 1200.0,449.3C1204.2,446.0 1208.5,444.3 1214.1,440.0C1219.7,435.7 1226.9,428.4 1233.8,423.5C1240.7,418.6 1250.4,413.6 1255.7,410.4C1261.0,407.2 1263.9,405.3 1265.5,404.3" fill="none" stroke="#2962ff" stroke-width="2" stroke-linejoin="round"/>
<!-- fib lines -->
<line x1="1088" y1="330" x2="1337" y2="330" stroke="#2962ff" stroke-width="2"/>
<line x1="1088" y1="382" x2="1337" y2="382" stroke="#2962ff" stroke-width="2"/>
<text x="1344.3" y="334" font-size="11.7" fill="#2962ff">1.618(29852.22)</text>
<text x="1344.3" y="386" font-size="11.7" fill="#2962ff">1.272(27275.57)</text>
<!-- neckline -->
<line x1="1178.2" y1="396.5" x2="1272" y2="396.5" stroke="#131722" stroke-width="1" stroke-dasharray="4,4"/>
<text x="1205" y="407.5" font-size="8.6" font-weight="bold" fill="#363a45" textLength="40" lengthAdjust="spacingAndGlyphs">Neckline</text>
<path d="M1178.2,361.3 Q1192.4,325 1207.6,360.7" fill="none" stroke="#787b86" stroke-width="1"/>
<path d="M1207.2,350.4 Q1221.8,314 1236,350" fill="none" stroke="#787b86" stroke-width="1"/>
<path d="M278,368.5 H337.7 Q345.7,368.5 345.7,376.5 V391.3 Q345.7,399.3 337.7,399.3 H278.6 L247.2,405.2 L270,391.1 V376.5 Q270,368.5 278,368.5 Z" fill="#6a8ffa" stroke="#2c8fb0" stroke-width="1"/><text x="280.9" y="386.8" font-size="9.8" font-weight="bold" fill="#131722" textLength="54" lengthAdjust="spacingAndGlyphs">50-Day EMA</text><path d="M601.2,353.3 H666.5 Q674.5,353.3 674.5,361.3 V375.5 Q674.5,383.5 666.5,383.5 H601 L576.1,386.2 L593.2,375.3 V361.3 Q593.2,353.3 601.2,353.3 Z" fill="#f6717c" stroke="#2c7f98" stroke-width="1"/><text x="604" y="370.7" font-size="9.4" font-weight="bold" fill="#131722" textLength="60" lengthAdjust="spacingAndGlyphs">200-Day EMA</text>
</g>
<!-- legend -->
<text x="18.5" y="45.6" font-size="11.6" fill="#131722">Bitcoin / TetherUS, 1D, BINANCE&#160;&#160;O<tspan fill="#089981">29637.35</tspan>&#160;&#160;H<tspan fill="#089981">30308.23</tspan>&#160;&#160;L<tspan fill="#089981">29590.00</tspan>&#160;&#160;C<tspan fill="#089981">30193.16</tspan>&#160;&#160;<tspan fill="#089981">+555.82 (+1.88%)</tspan></text>
<g font-size="11.6" fill="#131722"><text x="1764" y="90.2" font-size="12.2" textLength="48.4" lengthAdjust="spacingAndGlyphs">42000.00</text><text x="1764" y="170.7" font-size="12.2" textLength="48.4" lengthAdjust="spacingAndGlyphs">38000.00</text><text x="1764" y="210.9" font-size="12.2" textLength="48.4" lengthAdjust="spacingAndGlyphs">36000.00</text><text x="1764" y="251.2" font-size="12.2" textLength="48.4" lengthAdjust="spacingAndGlyphs">34000.00</text><text x="1764" y="291.5" font-size="12.2" textLength="48.4" lengthAdjust="spacingAndGlyphs">32000.00</text><text x="1764" y="372.0" font-size="12.2" textLength="48.4" lengthAdjust="spacingAndGlyphs">28000.00</text><text x="1764" y="452.5" font-size="12.2" textLength="48.4" lengthAdjust="spacingAndGlyphs">24000.00</text><text x="1764" y="492.8" font-size="12.2" textLength="48.4" lengthAdjust="spacingAndGlyphs">22000.00</text><text x="1764" y="533.0" font-size="12.2" textLength="48.4" lengthAdjust="spacingAndGlyphs">20000.00</text><text x="1764" y="573.3" font-size="12.2" textLength="48.4" lengthAdjust="spacingAndGlyphs">18000.00</text><text x="1764" y="613.5" font-size="12.2" textLength="48.4" lengthAdjust="spacingAndGlyphs">16000.00</text><text x="1764" y="653.8" font-size="12.2" textLength="48.4" lengthAdjust="spacingAndGlyphs">14000.00</text><text x="1764" y="45.2">USDT</text><text x="1764" y="676.2">800K</text><text x="1764" y="705">400K</text><text x="1764" y="755.5">80.00</text><text x="1764" y="792.3">40.00</text></g>
<g font-size="11.8" font-weight="bold" fill="#ffffff"><rect x="1753.7" y="116.8" width="65" height="16.8" rx="2" fill="#2962ff"/><text x="1764.3" y="129.5" textLength="48" lengthAdjust="spacingAndGlyphs">40023.77</text><rect x="1693" y="315.1" width="126" height="16.899999999999977" rx="2" fill="#089981"/><rect x="1753" y="315.1" width="1" height="16.899999999999977" fill="#ffffff"/><text x="1698.8" y="327.9" textLength="48.5" lengthAdjust="spacingAndGlyphs">BTCUSDT</text><text x="1764" y="327.9" textLength="48.7" lengthAdjust="spacingAndGlyphs">30193.16</text><rect x="1719" y="397" width="100" height="16.80000000000001" rx="2" fill="#2962ff"/><rect x="1753" y="397" width="1" height="16.80000000000001" fill="#ffffff"/><text x="1724.7" y="409.7" textLength="22.6" lengthAdjust="spacingAndGlyphs">EMA</text><text x="1764" y="409.7" textLength="48.3" lengthAdjust="spacingAndGlyphs">26148.31</text><rect x="1719" y="455.4" width="100" height="16.600000000000023" rx="2" fill="#f23645"/><rect x="1753" y="455.4" width="1" height="16.600000000000023" fill="#ffffff"/><text x="1724.7" y="468.0" textLength="22.6" lengthAdjust="spacingAndGlyphs">EMA</text><text x="1764" y="468.0" textLength="48.3" lengthAdjust="spacingAndGlyphs">23277.41</text><rect x="1683" y="703.2" width="130" height="16.199999999999932" rx="2" fill="#2962ff"/><rect x="1753" y="703.2" width="1" height="16.199999999999932" fill="#ffffff"/><text x="1688.7" y="715.6" textLength="58.6" lengthAdjust="spacingAndGlyphs">Volume MA</text><text x="1764" y="715.6" textLength="43.2" lengthAdjust="spacingAndGlyphs">60.088K</text><rect x="1702" y="719.4" width="111" height="16.200000000000045" rx="2" fill="#26a69a"/><rect x="1753" y="719.4" width="1" height="16.200000000000045" fill="#ffffff"/><text x="1708.0" y="731.8" textLength="39.3" lengthAdjust="spacingAndGlyphs">Volume</text><text x="1764" y="731.8" textLength="43.2" lengthAdjust="spacingAndGlyphs">11.751K</text><rect x="1725" y="752" width="75" height="17" rx="2" fill="#787b86"/><rect x="1753" y="752" width="1" height="17" fill="#ffffff"/><text x="1730.9" y="764.8" textLength="16.4" lengthAdjust="spacingAndGlyphs">RSI</text><text x="1764" y="764.8" textLength="29.6" lengthAdjust="spacingAndGlyphs">71.37</text></g>
<g font-size="11.6" fill="#131722"><text x="28" y="830.2" text-anchor="middle">May</text><text x="139.5" y="830.2" text-anchor="middle">Jun</text><text x="246.9" y="830.2" text-anchor="middle">Jul</text><text x="357.8" y="830.2" text-anchor="middle">Aug</text><text x="468.6" y="830.2" text-anchor="middle">Sep</text><text x="576.5" y="830.2" text-anchor="middle">Oct</text><text x="687.4" y="830.2" text-anchor="middle">Nov</text><text x="794.8" y="830.2" text-anchor="middle">Dec</text><text x="1017.2" y="830.2" text-anchor="middle">Feb</text><text x="1117.4" y="830.2" text-anchor="middle">Mar</text><text x="1228.7" y="830.2" text-anchor="middle">Apr</text><text x="1337" y="830.2" text-anchor="middle">May</text><text x="1448" y="830.2" text-anchor="middle">Jun</text><text x="1555.6" y="830.2" text-anchor="middle">Jul</text><text x="1666.2" y="830.2" text-anchor="middle">Aug</text><text x="906.2" y="830.2" text-anchor="middle" font-weight="bold">2023</text></g>
<!-- logo -->
<g fill="#131722">
<path d="M9.8,851.9 H17.7 V861.9 H13.4 V856 H9.8 Z"/>
<circle cx="21.3" cy="854" r="2.1"/>
<path d="M25.9,851.9 H29.9 L25.2,861.9 H21.3 Z"/>
</g>
<text x="33" y="861.9" font-size="12.4" fill="#2a2e39" textLength="70.4" lengthAdjust="spacingAndGlyphs">TradingView</text>
</svg>
</body></html>
